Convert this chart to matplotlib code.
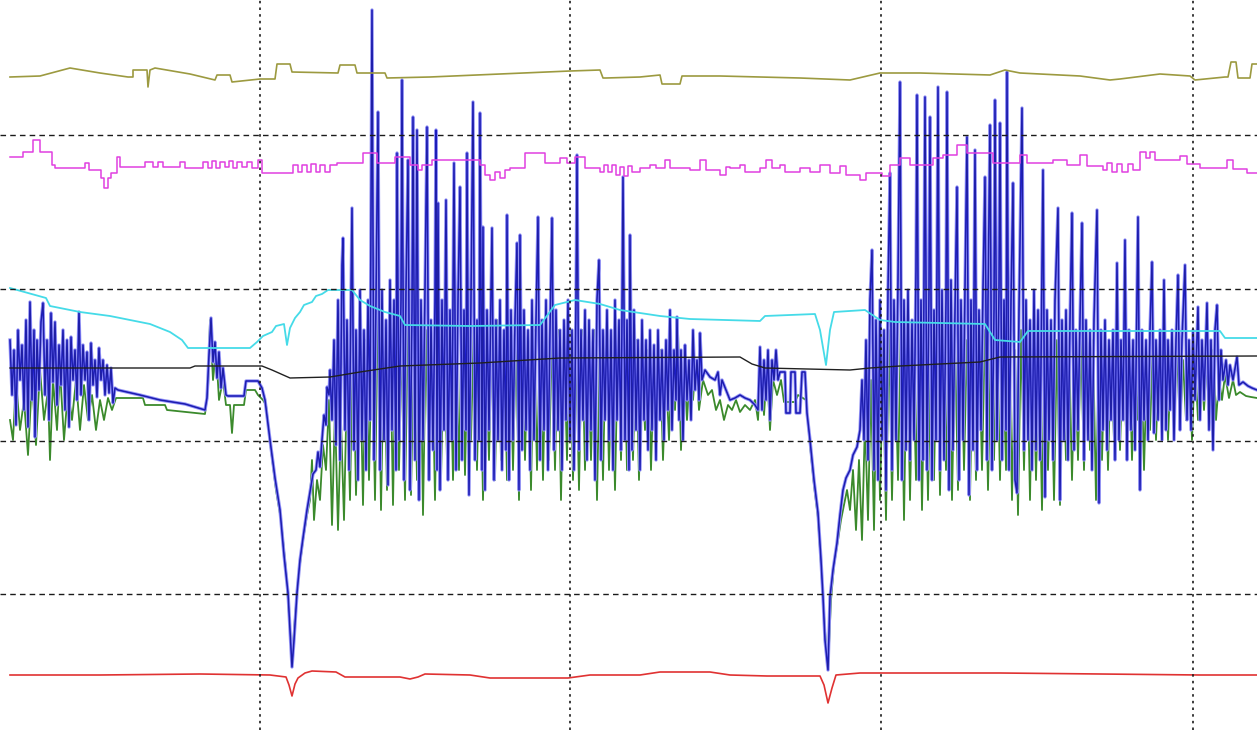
import matplotlib
matplotlib.use("Agg")
import matplotlib.pyplot as plt
import numpy as np

# recorded traces, (sample, level) pairs; level axis runs downward
olive = [(10, 77), (40, 76), (70, 68), (100, 73), (128, 77), (133, 77), (133, 70), (147, 70), (148, 87), (150, 70),
         (155, 68), (190, 74), (215, 80), (217, 75), (230, 75), (232, 82), (260, 79), (275, 79), (277, 64), (290, 64),
         (292, 72), (338, 73), (340, 65), (355, 65), (357, 73), (385, 73), (387, 78), (430, 77), (500, 74), (570, 71),
         (600, 70), (603, 78), (606, 78), (640, 77), (660, 75), (662, 84), (680, 84), (682, 76), (720, 76), (800, 78),
         (850, 80), (880, 73), (920, 73), (990, 75), (1005, 70), (1020, 73), (1080, 76), (1110, 80), (1120, 79),
         (1160, 74), (1190, 76), (1195, 80), (1225, 77), (1228, 77), (1231, 62), (1236, 62), (1238, 78), (1250, 78),
         (1252, 64), (1257, 64)]

magenta = [(10, 157), (23, 152), (33, 140), (40, 152), (52, 165), (55, 168), (85, 163), (89, 170), (101, 178), (104, 188),
           (108, 178), (111, 173), (117, 157), (120, 167), (145, 162), (153, 167), (158, 162), (163, 167), (180, 162),
           (185, 168), (203, 162), (208, 168), (212, 161), (216, 168), (220, 162), (225, 167), (229, 161), (233, 168),
           (237, 162), (242, 167), (247, 162), (252, 168), (258, 160), (262, 173), (293, 165), (298, 172), (302, 165),
           (307, 172), (311, 164), (316, 172), (320, 165), (325, 172), (330, 165), (337, 163), (363, 153), (377, 163),
           (395, 157), (410, 165), (418, 170), (422, 165), (432, 160), (455, 160), (480, 165), (485, 175), (490, 180),
           (495, 172), (500, 178), (505, 170), (510, 168), (525, 153), (545, 163), (560, 158), (567, 163), (575, 157),
           (585, 168), (600, 172), (604, 165), (608, 172), (612, 165), (616, 175), (620, 167), (624, 176), (628, 166),
           (632, 172), (640, 168), (650, 165), (656, 168), (665, 160), (670, 168), (690, 170), (700, 160), (706, 170),
           (720, 175), (726, 167), (730, 168), (740, 165), (745, 172), (760, 168), (766, 160), (772, 168), (780, 165),
           (785, 172), (800, 168), (810, 172), (820, 165), (830, 173), (840, 166), (846, 175), (855, 175), (860, 180),
           (866, 173), (882, 176), (890, 165), (900, 158), (910, 165), (933, 158), (943, 155), (957, 145), (967, 153),
           (993, 163), (1020, 155), (1027, 163), (1053, 160), (1067, 165), (1080, 155), (1087, 166), (1103, 170),
           (1107, 163), (1112, 172), (1117, 164), (1122, 172), (1128, 164), (1133, 170), (1140, 152), (1146, 158),
           (1150, 152), (1155, 160), (1167, 160), (1180, 156), (1187, 164), (1200, 168), (1227, 160), (1233, 169),
           (1247, 173), (1257, 173)]

cyan = [(10, 288), (46, 298), (50, 306), (80, 312), (110, 316), (150, 324), (170, 332), (182, 340), (188, 348), (250, 348),
        (257, 342), (263, 336), (272, 332), (276, 326), (284, 324), (287, 345), (290, 328), (295, 318), (300, 312),
        (304, 305), (312, 302), (316, 296), (322, 294), (328, 290), (352, 290), (360, 300), (370, 306), (385, 312),
        (400, 316), (405, 325), (470, 326), (540, 325), (555, 305), (575, 300), (600, 304), (620, 310), (660, 316),
        (690, 319), (760, 321), (765, 316), (815, 314), (820, 330), (826, 365), (830, 330), (834, 312), (865, 310),
        (880, 320), (895, 322), (985, 324), (995, 340), (1020, 342), (1028, 331), (1220, 331), (1225, 338), (1257, 338)]

black = [(10, 368), (190, 368), (195, 366), (262, 366), (272, 370), (290, 378), (330, 377), (360, 372), (400, 366),
         (480, 363), (560, 358), (740, 357), (752, 364), (765, 368), (850, 370), (870, 368), (900, 366), (980, 362),
         (1000, 357), (1257, 356)]

blue = [(10, 340), (12, 395), (14, 350), (16, 425), (18, 330), (20, 380), (22, 345), (24, 410), (26, 320), (28, 427),
        (30, 302), (32, 400), (34, 330), (35, 437), (37, 340), (39, 390), (41, 322), (43, 303), (45, 395), (47, 340),
        (49, 420), (51, 313), (53, 382), (55, 322), (57, 405), (59, 345), (61, 385), (63, 330), (65, 410), (67, 340),
        (69, 427), (71, 337), (73, 380), (75, 350), (77, 400), (79, 312), (81, 395), (83, 345), (85, 380), (87, 352),
        (89, 420), (91, 343), (93, 385), (95, 360), (97, 397), (99, 348), (101, 380), (103, 360), (105, 395), (107, 365),
        (109, 393), (111, 368), (113, 403), (115, 388), (118, 390), (140, 395), (160, 400), (185, 404), (205, 410),
        (207, 398), (209, 355), (211, 318), (213, 362), (215, 342), (217, 378), (219, 352), (221, 388), (223, 368),
        (226, 395), (228, 396), (244, 396), (246, 381), (258, 381), (262, 388), (265, 400),
        (270, 440), (275, 478), (280, 510), (284, 555), (288, 593), (290, 630), (292, 667), (294, 640), (297, 593),
        (300, 560), (303, 538), (307, 510), (310, 492), (313, 474), (316, 470), (318, 452), (320, 467), (322, 440),
        (324, 415), (326, 425), (327, 387), (329, 395), (330, 370),
        (332, 420), (334, 340), (336, 445), (338, 300), (340, 460), (342, 265), (343, 238), (345, 430), (347, 320),
        (349, 470), (351, 300), (352, 208), (354, 450), (356, 330), (358, 480), (360, 290), (362, 440), (364, 330),
        (366, 470), (368, 300), (370, 420), (372, 10), (374, 460), (376, 300), (378, 112), (380, 470), (382, 290),
        (384, 440), (386, 320), (388, 485), (390, 280), (392, 430), (394, 300), (396, 470), (397, 153), (399, 440),
        (401, 300), (402, 80), (404, 480), (406, 290), (408, 160), (410, 490), (412, 310), (413, 117), (415, 460),
        (417, 130), (419, 500), (421, 300), (423, 440), (425, 290), (427, 127), (429, 480), (431, 320), (433, 450),
        (435, 300), (436, 130), (437, 470), (438, 203), (440, 490), (442, 300), (444, 430), (446, 200), (448, 480),
        (450, 310), (452, 440), (454, 163), (456, 470), (458, 300), (460, 187), (462, 460), (464, 310), (466, 430),
        (467, 153), (469, 495), (471, 300), (473, 102), (475, 460), (477, 320), (479, 440), (480, 113), (482, 470),
        (483, 227), (485, 490), (487, 310), (489, 430), (491, 300), (492, 228), (494, 480), (496, 320), (498, 440),
        (500, 300), (502, 470), (504, 330), (506, 450), (507, 215), (509, 480), (511, 310), (513, 440), (515, 320),
        (517, 243), (519, 490), (520, 235), (522, 450), (524, 310), (526, 430), (528, 330), (530, 470), (532, 300),
        (534, 440), (536, 320), (538, 217), (540, 460), (542, 320), (544, 430), (546, 300), (548, 470), (550, 330),
        (552, 218), (554, 450), (556, 310), (558, 430), (560, 330), (562, 470), (564, 320), (566, 420), (568, 300),
        (570, 440), (572, 330), (574, 470), (576, 300), (577, 155), (579, 450), (581, 330), (583, 420), (585, 310),
        (587, 460), (589, 320), (591, 430), (593, 330), (595, 480), (597, 300), (599, 260), (601, 460), (603, 330),
        (605, 420), (607, 310), (609, 440), (611, 330), (613, 470), (615, 300), (617, 420), (619, 320), (621, 450),
        (623, 177), (625, 440), (627, 320), (629, 470), (630, 235), (632, 450), (634, 310), (636, 430), (638, 340),
        (640, 470), (642, 320), (644, 420), (646, 340), (648, 450), (650, 330), (652, 430), (654, 345), (656, 460),
        (658, 330), (660, 420), (662, 350), (664, 440), (666, 340), (668, 410), (670, 310), (672, 430), (674, 350),
        (676, 400), (677, 317), (679, 420), (681, 350), (683, 440), (685, 345), (687, 400), (689, 360), (691, 420),
        (693, 330), (695, 390), (697, 360), (699, 400), (700, 333), (702, 380), (705, 370),
        (710, 377), (715, 380), (718, 372), (720, 395), (722, 380), (726, 390), (730, 400), (735, 398), (740, 395),
        (745, 398), (750, 400), (755, 405), (758, 410), (760, 347), (762, 410), (764, 360), (766, 400), (768, 350),
        (770, 420), (772, 360), (774, 380), (776, 350), (778, 380), (780, 372), (785, 372), (786, 413), (790, 413),
        (791, 372), (795, 372), (796, 413), (800, 413), (802, 372), (805, 372), (807, 413),
        (810, 440), (814, 480), (818, 513), (821, 560), (823, 597), (825, 640), (828, 670), (830, 597), (833, 570),
        (837, 543), (840, 515), (843, 490), (846, 478), (850, 470), (853, 455), (857, 447), (860, 430), (862, 380),
        (864, 440), (866, 340), (868, 460), (870, 300), (872, 250), (874, 470), (876, 320), (878, 480), (880, 300),
        (882, 440), (884, 330), (886, 490), (888, 290), (890, 173), (892, 470), (894, 300), (896, 440), (898, 280),
        (900, 82), (902, 480), (904, 300), (906, 450), (908, 290), (910, 460), (912, 320), (914, 440), (916, 270),
        (917, 95), (919, 480), (921, 300), (923, 460), (925, 97), (927, 470), (929, 290), (930, 117), (932, 480),
        (934, 310), (936, 440), (938, 87), (940, 470), (942, 290), (944, 460), (946, 300), (947, 92), (949, 490),
        (951, 280), (953, 450), (955, 310), (957, 187), (959, 480), (961, 300), (963, 440), (965, 290), (967, 137),
        (969, 495), (971, 300), (973, 450), (975, 150), (977, 470), (979, 310), (981, 430), (983, 290), (985, 177),
        (987, 460), (988, 300), (990, 125), (992, 470), (994, 310), (995, 100), (997, 440), (999, 290), (1000, 123),
        (1002, 460), (1004, 300), (1006, 430), (1007, 72), (1009, 470), (1011, 300), (1013, 183), (1015, 480),
        (1017, 493), (1019, 310), (1022, 108), (1024, 450), (1026, 300), (1028, 440), (1030, 320), (1032, 470),
        (1034, 290), (1036, 450), (1038, 310), (1040, 460), (1043, 170), (1045, 497), (1047, 310), (1049, 440),
        (1051, 320), (1053, 460), (1055, 300), (1058, 208), (1060, 500), (1062, 320), (1064, 440), (1066, 310),
        (1068, 460), (1070, 320), (1072, 213), (1074, 450), (1076, 330), (1078, 430), (1080, 320), (1082, 223),
        (1084, 460), (1086, 320), (1088, 440), (1090, 330), (1092, 470), (1094, 320), (1097, 210), (1099, 503),
        (1101, 330), (1103, 430), (1105, 320), (1107, 450), (1109, 340), (1111, 420), (1113, 330), (1115, 460),
        (1117, 263), (1119, 440), (1121, 340), (1123, 420), (1125, 240), (1127, 460), (1129, 330), (1131, 430),
        (1133, 340), (1135, 450), (1138, 217), (1140, 490), (1142, 330), (1144, 420), (1146, 340), (1148, 440),
        (1150, 330), (1152, 262), (1154, 433), (1156, 340), (1158, 420), (1160, 330), (1162, 440), (1164, 280),
        (1166, 430), (1168, 340), (1170, 410), (1172, 330), (1174, 440), (1176, 340), (1178, 275), (1180, 430),
        (1182, 340), (1185, 265), (1187, 420), (1189, 340), (1191, 430), (1193, 330), (1195, 400), (1198, 307),
        (1200, 420), (1202, 340), (1204, 400), (1207, 303), (1209, 430), (1211, 340), (1213, 450), (1215, 330),
        (1217, 305), (1219, 400), (1221, 350), (1223, 380), (1226, 360), (1228, 385), (1230, 365), (1233, 380),
        (1237, 357), (1239, 385), (1243, 382), (1248, 386), (1252, 388), (1257, 390)]

green = [(10, 420), (13, 440), (16, 380), (20, 430), (24, 400), (28, 455), (32, 380), (36, 445), (40, 370), (44, 420),
         (48, 390), (50, 460), (53, 380), (57, 430), (60, 370), (64, 440), (68, 390), (72, 420), (76, 380), (80, 430),
         (84, 385), (88, 420), (92, 395), (96, 430), (100, 400), (104, 420), (108, 398), (112, 410), (116, 398),
         (143, 398), (145, 405), (165, 405), (167, 410), (205, 414), (208, 390), (210, 320), (213, 380), (216, 350),
         (219, 400), (223, 380), (226, 405), (230, 405), (232, 433), (234, 405), (244, 405), (246, 390), (255, 390),
         (258, 395), (263, 400), (266, 405),
         (271, 450), (276, 490), (281, 520), (286, 570), (290, 630), (292, 665), (294, 630), (298, 580), (303, 540),
         (307, 515), (310, 500), (312, 460), (314, 520), (317, 480), (320, 500), (323, 445), (326, 470), (329, 400),
         (332, 525), (335, 410), (338, 530), (341, 420), (344, 520), (347, 380), (350, 500),
         (353, 330), (356, 495), (360, 350), (363, 505), (366, 340), (369, 480), (372, 330), (375, 500), (378, 300),
         (381, 510), (384, 340), (387, 490), (390, 320), (393, 505), (396, 330), (399, 470), (402, 340), (405, 500),
         (408, 320), (411, 495), (414, 340), (417, 480), (420, 300), (423, 515), (426, 330), (429, 480), (432, 340),
         (435, 500), (438, 320), (441, 480), (444, 340), (447, 460), (450, 330), (453, 480), (456, 340), (459, 470),
         (462, 310), (465, 475), (468, 330), (471, 440), (474, 320), (477, 470), (480, 330), (483, 500), (486, 340),
         (489, 460), (492, 330), (495, 480), (498, 320), (501, 460), (504, 330), (507, 480), (510, 330), (513, 470),
         (516, 340), (519, 500), (522, 330), (525, 460), (528, 340), (531, 490), (534, 330), (537, 470), (540, 340),
         (543, 480), (546, 330), (549, 460), (552, 340), (555, 470), (558, 330), (561, 500), (564, 340), (567, 460),
         (570, 330), (573, 480), (576, 340), (579, 490), (582, 330), (585, 470), (588, 340), (591, 460), (594, 330),
         (597, 500), (600, 340), (603, 480), (606, 330), (609, 470), (612, 350), (615, 490), (618, 340), (621, 460),
         (624, 330), (627, 470), (630, 350), (633, 460), (636, 340), (639, 480), (642, 360), (645, 430), (648, 350),
         (651, 470), (654, 360), (657, 420), (660, 350), (663, 460), (666, 370), (669, 440), (672, 360), (675, 410),
         (678, 330), (681, 450), (684, 360), (687, 420), (690, 370), (693, 400), (696, 360), (699, 410), (703, 380),
         (708, 395), (712, 390), (716, 410), (720, 400), (724, 420), (728, 405), (732, 410), (736, 400), (740, 412),
         (745, 405), (750, 410), (755, 400), (758, 420), (761, 360), (764, 415), (767, 370), (770, 430), (773, 380),
         (777, 395), (781, 380), (784, 402), (795, 402), (798, 395), (806, 400),
         (810, 445), (814, 485), (818, 518), (821, 565), (823, 600), (826, 645), (828, 668), (831, 600), (834, 565),
         (838, 540), (841, 520), (844, 505), (847, 490), (850, 510), (853, 470), (856, 530), (859, 460), (862, 540),
         (865, 420), (868, 520), (871, 380), (874, 530), (877, 350), (880, 500), (883, 360), (886, 520), (889, 330),
         (892, 500), (895, 350), (898, 480), (901, 320), (904, 520), (907, 330), (910, 500), (913, 350), (916, 480),
         (919, 330), (922, 510), (925, 340), (928, 500), (931, 330), (934, 480), (937, 320), (940, 495), (943, 340),
         (946, 470), (949, 330), (952, 500), (955, 340), (958, 490), (961, 330), (964, 470), (967, 340), (970, 500),
         (973, 330), (976, 480), (979, 340), (982, 470), (985, 330), (988, 490), (991, 340), (994, 460), (997, 330),
         (1000, 480), (1003, 340), (1006, 470), (1009, 330), (1012, 500), (1015, 350), (1018, 515), (1021, 330),
         (1024, 470), (1027, 340), (1030, 500), (1033, 330), (1036, 480), (1039, 350), (1042, 510), (1045, 330),
         (1048, 470), (1051, 350), (1054, 500), (1057, 340), (1060, 505), (1063, 350), (1066, 460), (1069, 340),
         (1072, 480), (1075, 350), (1078, 460), (1081, 340), (1084, 470), (1087, 350), (1090, 450), (1093, 340),
         (1096, 500), (1099, 350), (1102, 460), (1105, 340), (1108, 470), (1111, 350), (1114, 440), (1117, 340),
         (1120, 450), (1123, 350), (1126, 430), (1129, 340), (1132, 460), (1135, 350), (1138, 420), (1141, 340),
         (1144, 470), (1147, 360), (1150, 430), (1153, 340), (1156, 440), (1159, 360), (1162, 420), (1165, 350),
         (1168, 440), (1171, 360), (1174, 410), (1177, 350), (1180, 430), (1183, 360), (1186, 420), (1189, 360),
         (1192, 440), (1195, 360), (1198, 420), (1201, 350), (1204, 410), (1207, 360), (1210, 400), (1213, 350),
         (1216, 420), (1219, 380), (1222, 400), (1225, 375), (1229, 398), (1233, 380), (1236, 395), (1240, 392),
         (1246, 396), (1251, 397), (1257, 398)]

red = [(10, 675), (100, 675), (200, 674), (270, 675), (286, 677), (289, 685), (292, 696), (295, 684), (298, 678),
       (305, 673), (312, 671), (336, 672), (345, 677), (400, 677), (410, 679), (418, 677), (425, 674), (470, 675),
       (490, 678), (568, 678), (590, 675), (640, 675), (660, 672), (710, 672), (730, 675), (767, 676), (820, 676),
       (824, 685), (828, 703), (832, 688), (836, 675), (860, 673), (900, 673), (1000, 673), (1100, 674), (1200, 675),
       (1257, 675)]

time_marks = [260, 570, 881, 1193]
level_marks = [135, 289, 441, 594]


def xy(pts):
    a = np.array(pts, dtype=float)
    return a[:, 0], a[:, 1]


fig = plt.figure(figsize=(12.57, 7.30), dpi=100)
ax = fig.add_axes([0, 0, 1, 1])
ax.set_xlim(0, 1257)
ax.set_ylim(730, 0)
ax.axis("off")

x, y = xy(green)
ax.plot(x, y, color="#3b8a2c", lw=1.3, zorder=2)
# pale halo under the blue trace, then the trace itself
x, y = xy(blue)
ax.plot(x, y, color="#9696f2", lw=2.4, zorder=3)
ax.plot(x, y, color="#1c1cd8", lw=1.1, zorder=3)
ax.plot(x, y, color="#24245e", lw=0.5, alpha=0.6, zorder=3)
x, y = xy(cyan)
ax.plot(x, y, color="#45dbe8", lw=1.3, zorder=4)
x, y = xy(black)
ax.plot(x, y, color="#202020", lw=1.0, zorder=4)
x, y = xy(magenta)
ax.step(x, y, where="post", color="#e040e0", lw=1.1, zorder=4)
x, y = xy(olive)
ax.plot(x, y, color="#9c9a40", lw=1.2, zorder=4)
x, y = xy(red)
ax.plot(x, y, color="#e03232", lw=1.2, zorder=4)

# grid drawn over the traces
for t in time_marks:
    ax.axvline(t, color="#1a1a1a", lw=1.2, ls=(0, (1.5, 2.5)), zorder=6)
for lv in level_marks:
    ax.axhline(lv, color="#1a1a1a", lw=1.0, ls=(0, (4, 3)), zorder=6)

fig.savefig("out.png", dpi=100)
